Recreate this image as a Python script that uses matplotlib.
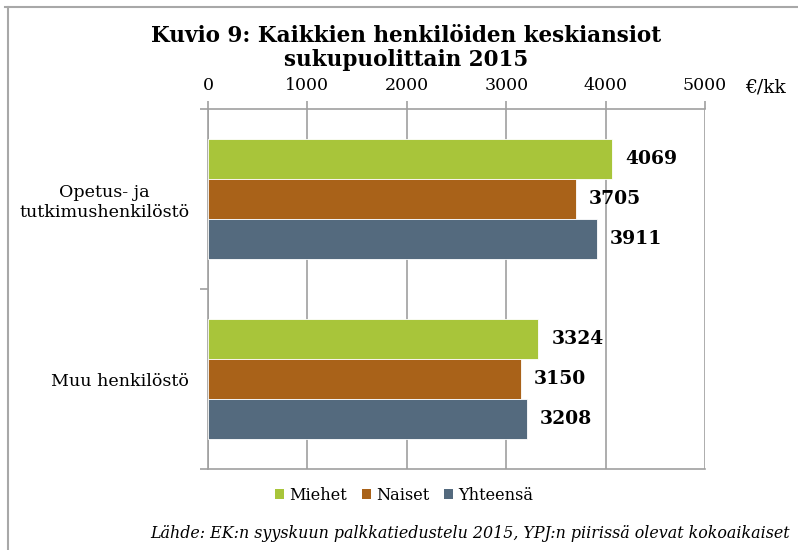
import numpy as np
import matplotlib.pyplot as plt
from matplotlib.lines import Line2D
from matplotlib.patches import Patch

categories = ["Opetus- ja\ntutkimushenkilöstö", "Muu henkilöstö"]
series_names = ["Miehet", "Naiset", "Yhteensä"]
miehet = [4069, 3324]
naiset = [3705, 3150]
yhteensa = [3911, 3208]
x_ticks = [0, 1000, 2000, 3000, 4000, 5000]

colors = ["#a8c53a", "#a96219", "#546a7e"]
grid_col = "#a0a0a0"

plt.rcParams["font.family"] = ["DejaVu Serif"]

fig = plt.figure(figsize=(7.98, 5.5), dpi=100)
ax = fig.add_axes([208 / 798, 1 - 469 / 550, 497 / 798, 360 / 550])

y = np.arange(len(categories))
h = 40 / 180
for i, (vals, name) in enumerate(zip([miehet, naiset, yhteensa], series_names)):
    pos = y + (i - 1) * h
    ax.barh(pos, vals, height=h, color=colors[i], edgecolor="white",
            linewidth=0.6, zorder=3, label=name)
    for p, v in zip(pos, vals):
        ax.text(v + 130, p, str(v), va="center", ha="left",
                fontsize=13.5, fontweight="bold", zorder=4)

ax.set_xlim(0, 5000)
ax.set_ylim(1.5, -0.5)
ax.xaxis.tick_top()
ax.set_xticks(x_ticks)
ax.set_xticklabels([str(t) for t in x_ticks], fontsize=12.5)
ax.tick_params(axis="x", length=6, color=grid_col, width=1.2, pad=5)
ax.set_yticks(y)
ax.set_yticklabels(categories, fontsize=12.6, ha="right", multialignment="center")
ax.tick_params(axis="y", length=0, pad=13.5)
ax.set_yticks([-0.5, 0.5, 1.5], minor=True)
ax.tick_params(axis="y", which="minor", length=6, color=grid_col, width=1.2)
ax.grid(axis="x", color=grid_col, linewidth=1.2, zorder=0)
for s in ["top", "left", "bottom"]:
    ax.spines[s].set_color(grid_col)
    ax.spines[s].set_linewidth(1.2)
ax.spines["right"].set_visible(False)

fig.text(745 / 798, 1 - 87 / 550, "€/kk", fontsize=13.5, va="center", ha="left")

fig.text(406 / 798, 1 - 36 / 550, "Kuvio 9: Kaikkien henkilöiden keskiansiot",
         fontsize=15.5, fontweight="bold", ha="center", va="center")
fig.text(406 / 798, 1 - 60 / 550, "sukupuolittain 2015",
         fontsize=15.5, fontweight="bold", ha="center", va="center")

handles = [Patch(facecolor=c, edgecolor="none") for c in colors]
fig.legend(handles, series_names, loc="center", bbox_to_anchor=(404 / 798, 1 - 495 / 550),
           ncol=3, frameon=False, fontsize=11.6, handlelength=0.6, handleheight=0.6,
           handletextpad=0.3, columnspacing=0.9)

fig.text(790 / 798, 1 - 534 / 550,
         "Lähde: EK:n syyskuun palkkatiedustelu 2015, YPJ:n piirissä olevat kokoaikaiset",
         fontsize=11.4, style="italic", ha="right", va="center")

# outer chart frame
frame = dict(color="#a8a8a8", linewidth=1.5, transform=fig.transFigure)
fig.add_artist(Line2D([8 / 798, 8 / 798], [0, 1 - 7 / 550], **frame))
fig.add_artist(Line2D([5 / 798, 1], [1 - 7 / 550, 1 - 7 / 550], **frame))

fig.savefig("out.png", dpi=100)
